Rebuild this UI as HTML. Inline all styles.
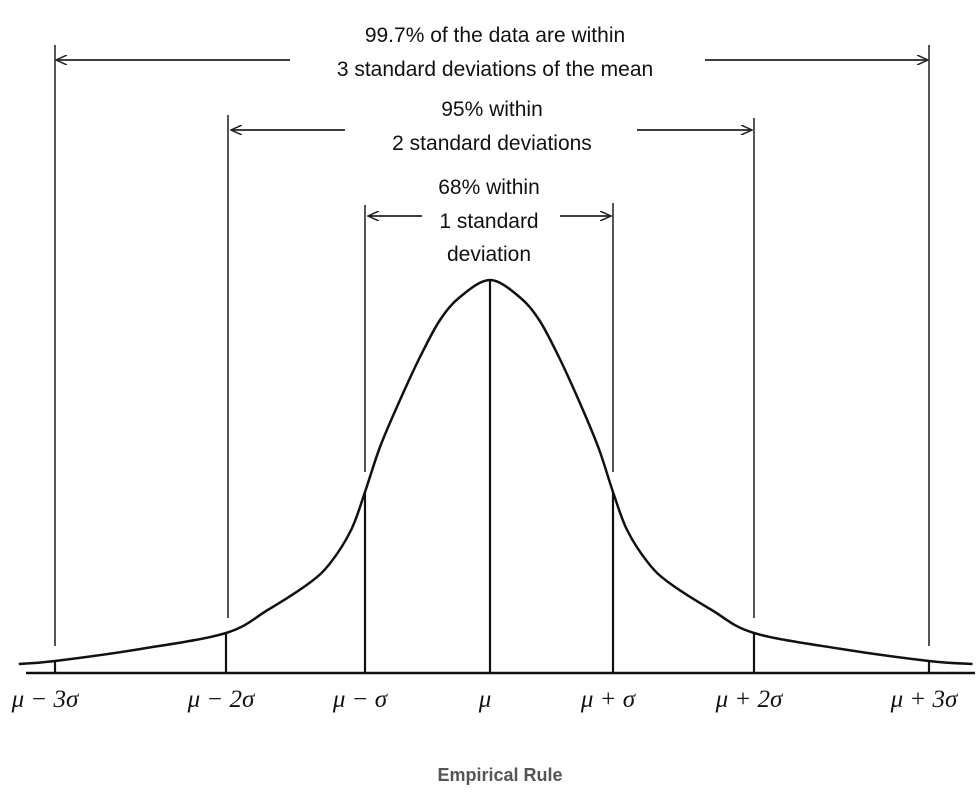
<!DOCTYPE html>
<html><head><meta charset="utf-8"><style>
html,body{margin:0;padding:0;background:#fff;}
svg{display:block;}
.t{font-family:"Liberation Sans",sans-serif;font-size:21px;fill:#111;text-anchor:middle;}
.m{font-family:"Liberation Serif",serif;font-style:italic;font-size:25px;fill:#111;text-anchor:middle;}
</style></head><body>
<svg id="chart" width="980" height="807" viewBox="0 0 980 807">
<defs><marker id="ah" markerWidth="12" markerHeight="10" refX="11" refY="5" orient="auto" markerUnits="userSpaceOnUse"><path d="M0,0 L11,5 L0,10" fill="none" stroke="#222" stroke-width="1.5"/></marker></defs>
<g id="g"></g>
</svg>
<script>
const sigmaTicks=[-3,-2,-1,0,1,2,3];
const tickLabels=["μ − 3σ","μ − 2σ","μ − σ","μ","μ + σ","μ + 2σ","μ + 3σ"];
const curveSigma=[-3.25,-3,-2.5,-2,-1.7,-1.4,-1.25,-1.1,-1,-0.88,-0.72,-0.56,-0.4,-0.24,0,0.24,0.4,0.56,0.72,0.88,1,1.1,1.25,1.4,1.7,2,2.5,3,3.3];
const curveHeight=[9,12,24,40,63,90,110,143,181,226,273,316,353,376,393,376,353,316,273,226,181,143,110,90,63,40,24,12,9];
const tickPx=[55,226,365,490,613,754,929];
const NS="http://www.w3.org/2000/svg";
const g=document.getElementById('g');
const baseY=673;
function xs(s){
  if(s<=-3) return tickPx[0]+(s+3)*145;
  if(s>=3) return tickPx[6]+(s-3)*145;
  const i=Math.min(5,Math.floor(s+3)), f=s+3-i;
  return tickPx[i]+f*(tickPx[i+1]-tickPx[i]);
}
function ys(h){return baseY-h;}
function el(tag,attrs){const e=document.createElementNS(NS,tag);for(const k in attrs)e.setAttribute(k,attrs[k]);g.appendChild(e);return e;}
let b=el('line',{x1:26,y1:baseY,x2:975,y2:baseY,stroke:'#111','stroke-width':2.5});


function smooth(){
  const p=curveSigma.map((s,i)=>[xs(s),ys(curveHeight[i])]);
  let s='M'+p[0][0]+','+p[0][1];
  for(let i=0;i<p.length-1;i++){
    const p0=p[Math.max(0,i-1)],p1=p[i],p2=p[i+1],p3=p[Math.min(p.length-1,i+2)];
    const c1=[p1[0]+(p2[0]-p0[0])/6,p1[1]+(p2[1]-p0[1])/6];
    const c2=[p2[0]-(p3[0]-p1[0])/6,p2[1]-(p3[1]-p1[1])/6];
    s+=`C${c1[0].toFixed(1)},${c1[1].toFixed(1)} ${c2[0].toFixed(1)},${c2[1].toFixed(1)} ${p2[0].toFixed(1)},${p2[1].toFixed(1)}`;
  }
  return s;
}
let c=el('path',{d:smooth(),fill:'none',stroke:'#111','stroke-width':2.5});


function hAt(s){
  for(let i=0;i<curveSigma.length-1;i++){if(s>=curveSigma[i]&&s<=curveSigma[i+1]){const f=(s-curveSigma[i])/(curveSigma[i+1]-curveSigma[i]);return curveHeight[i]+f*(curveHeight[i+1]-curveHeight[i]);}}
  return 0;
}
const upperTop={"-3":45,"-2":115,"-1":205,"1":203,"2":118,"3":45};
sigmaTicks.forEach((s,i)=>{
  const x=xs(s), yc=ys(hAt(s));
  let t=el('line',{x1:x,y1:yc,x2:x,y2:baseY,stroke:'#111','stroke-width':2.2});
  
  
  if(s!==0){
    const gap=Math.abs(s)===1?20:15;
    let u=el('line',{x1:x+(s===-2?2:0),y1:upperTop[String(s)],x2:x+(s===-2?2:0),y2:yc-gap,stroke:'#555','stroke-width':2});
    
    
  }
  let l=el('text',{x:x-5-(i===0?5:0),y:707,class:'m'});
  l.textContent=tickLabels[i];
  
  
});
function arrow(x1,x2,y,n){let a=el('line',{x1:x1,y1:y,x2:x2,y2:y,stroke:'#222','stroke-width':1.8,'marker-end':'url(#ah)'});}
arrow(290,56,60,'arrow-3sd-left');arrow(705,928,60,'arrow-3sd-right');
arrow(345,231,130,'arrow-2sd-left');arrow(637,752,130,'arrow-2sd-right');
arrow(422,368,216,'arrow-1sd-left');arrow(560,611,216,'arrow-1sd-right');
function txt(s,x,y,n){let t=el('text',{x:x,y:y,class:'t'});t.textContent=s;}
txt('99.7% of the data are within',495,42,'label-997-line1');
txt('3 standard deviations of the mean',495,76,'label-997-line2');
txt('95% within',492,116,'label-95-line1');
txt('2 standard deviations',492,150,'label-95-line2');
txt('68% within',489,194,'label-68-line1');
txt('1 standard',489,228,'label-68-line2');
txt('deviation',489,261,'label-68-line3');
let cap=el('text',{x:500,y:781,'text-anchor':'middle','font-family':'Liberation Sans, sans-serif','font-size':'18','font-weight':'bold',fill:'#555'});
cap.textContent='Empirical Rule';


</script>
</body></html>
